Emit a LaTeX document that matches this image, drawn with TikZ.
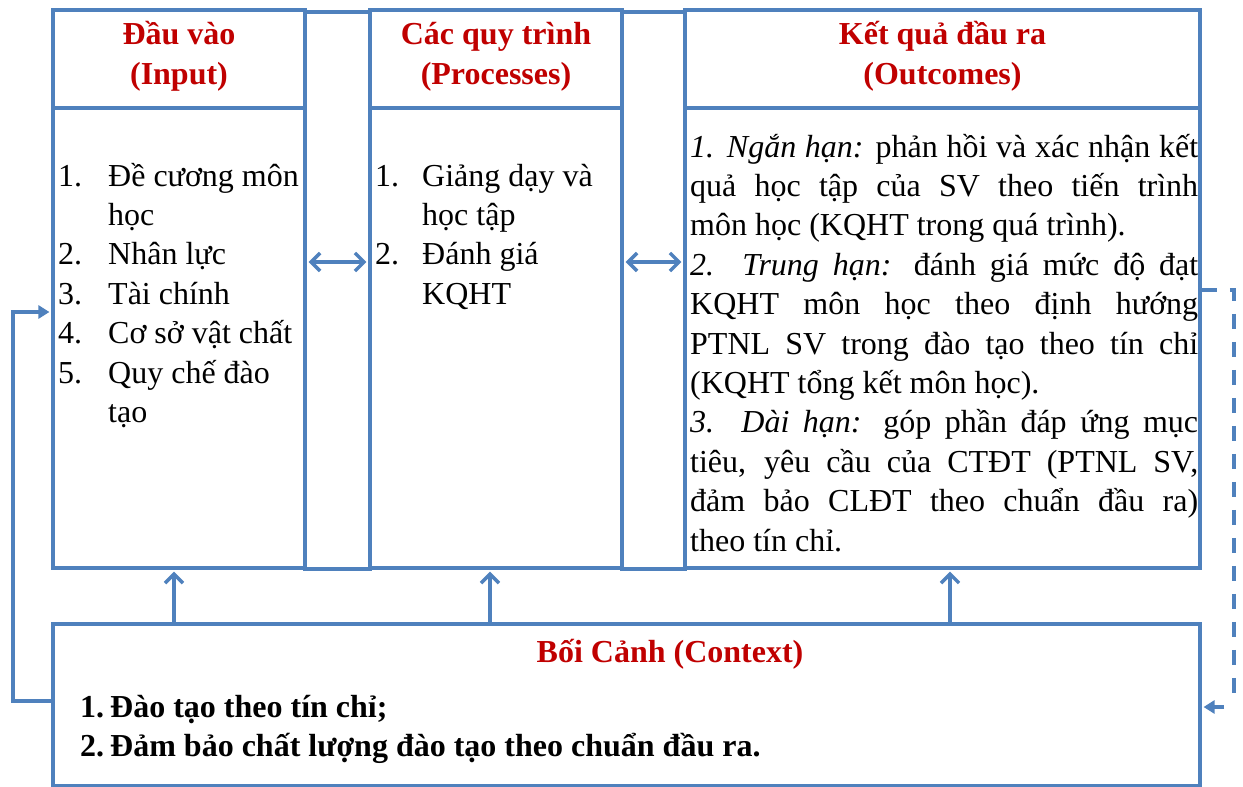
\documentclass[tikz,border=0pt]{standalone}
\usepackage{fontspec}
\setmainfont{Liberation Serif}
\usetikzlibrary{arrows.meta}
\definecolor{myblue}{HTML}{4F81BD}
\definecolor{myred}{HTML}{C00000}
\newcommand\bodysize{\fontsize{32}{39.4}\selectfont}
\begin{document}
\begin{tikzpicture}[x=1pt,y=-1pt,
  box/.style={draw=myblue, line width=3.5pt, inner sep=0pt, fill=white},
  txt/.style={font=\bodysize, inner sep=0pt, anchor=base west},
  hd/.style={font=\bodysize\bfseries, text=myred, inner sep=0pt, anchor=base},
  ctxt/.style={font=\bodysize\bfseries, inner sep=0pt, anchor=base west},
  link/.style={draw=myblue, line width=3.5pt, shorten <=1.8pt, shorten >=1.8pt,
    {Straight Barb[length=9pt,width=18pt]}-{Straight Barb[length=9pt,width=18pt]}},
  uparrow/.style={draw=myblue, line width=3.5pt, shorten >=1.8pt,
    -{Straight Barb[length=9pt,width=18pt]}},
  fback/.style={draw=myblue, line width=3.5pt, shorten >=1.8pt,
    -{Triangle[length=11pt,width=13pt]}},
  dline/.style={draw=myblue, line width=3.5pt, dash pattern=on 15pt off 13pt}]
\useasboundingbox (0,0) rectangle (1243,787);

% connector strips
\node[box, minimum width=65pt, minimum height=557pt] (strip1) at (337.5,290.5) {};
\node[box, minimum width=63pt, minimum height=557pt] (strip2) at (653.5,290.5) {};

% columns
\node[box, minimum width=252pt, minimum height=98pt] (inhead) at (179,59) {};
\node[box, minimum width=252pt, minimum height=460pt] (inbody) at (179,338) {};
\node[box, minimum width=252pt, minimum height=98pt] (prhead) at (496,59) {};
\node[box, minimum width=252pt, minimum height=460pt] (prbody) at (496,338) {};
\node[box, minimum width=515pt, minimum height=98pt] (ouhead) at (942.5,59) {};
\node[box, minimum width=515pt, minimum height=460pt] (oubody) at (942.5,338) {};

% context
\node[box, minimum width=1147pt, minimum height=162pt] (ctx) at (626.5,705) {};

% headers
\node[hd] (h1a) at (179,45) {Đầu vào};
\node[hd] (h1b) at (179,84) {(Input)};
\node[hd] (h2a) at (496,45) {Các quy trình};
\node[hd] (h2b) at (496,84) {(Processes)};
\node[hd] (h3a) at (942.5,45) {Kết quả đầu ra};
\node[hd] (h3b) at (942.5,84) {(Outcomes)};

% input list
\node[txt] (in1n) at (58,186) {1.};
\node[txt] (in1) at (108,186) {Đề cương môn};
\node[txt] (in1c) at (108,225.4) {học};
\node[txt] (in2n) at (58,264.8) {2.};
\node[txt] (in2) at (108,264.8) {Nhân lực};
\node[txt] (in3n) at (58,304.2) {3.};
\node[txt] (in3) at (108,304.2) {Tài chính};
\node[txt] (in4n) at (58,343.6) {4.};
\node[txt] (in4) at (108,343.6) {Cơ sở vật chất};
\node[txt] (in5n) at (58,383) {5.};
\node[txt] (in5) at (108,383) {Quy chế đào};
\node[txt] (in5c) at (108,422.4) {tạo};

% process list
\node[txt] (pr1n) at (375,186) {1.};
\node[txt] (pr1) at (422,186) {Giảng dạy và};
\node[txt] (pr1c) at (422,225.4) {học tập};
\node[txt] (pr2n) at (375,264.8) {2.};
\node[txt] (pr2) at (422,264.8) {Đánh giá};
\node[txt] (pr2c) at (422,304.2) {KQHT};

% outcomes text
\node[txt] (ou1) at (690,157) {\makebox[508pt][s]{\textit{1. Ngắn hạn:} phản hồi và xác nhận kết}};
\node[txt] (ou2) at (690,196.4) {\makebox[508pt][s]{quả học tập của SV theo tiến trình}};
\node[txt] (ou3) at (690,235.8) {môn học (KQHT trong quá trình).};
\node[txt] (ou4) at (690,275.2) {\makebox[508pt][s]{\textit{2. Trung hạn:} đánh giá mức độ đạt}};
\node[txt] (ou5) at (690,314.6) {\makebox[508pt][s]{KQHT môn học theo định hướng}};
\node[txt] (ou6) at (690,354) {\makebox[508pt][s]{PTNL SV trong đào tạo theo tín chỉ}};
\node[txt] (ou7) at (690,393.4) {(KQHT tổng kết môn học).};
\node[txt] (ou8) at (690,432.8) {\makebox[508pt][s]{\textit{3. Dài hạn:} góp phần đáp ứng mục}};
\node[txt] (ou9) at (690,472.2) {\makebox[508pt][s]{tiêu, yêu cầu của CTĐT (PTNL SV,}};
\node[txt] (ou10) at (690,511.6) {\makebox[508pt][s]{đảm bảo CLĐT theo chuẩn đầu ra)}};
\node[txt] (ou11) at (690,551) {theo tín chỉ.};

% context text
\node[hd] (ct) at (670,662) {Bối Cảnh (Context)};
\node[ctxt] (c1n) at (80,717) {1.};
\node[ctxt] (c1) at (110,717) {Đào tạo theo tín chỉ;};
\node[ctxt] (c2n) at (80,756) {2.};
\node[ctxt] (c2) at (110,756) {Đảm bảo chất lượng đào tạo theo chuẩn đầu ra.};

% coordinates for connectors
\coordinate (lk) at (0,262);
\coordinate (ux1) at (174,0);
\coordinate (ux2) at (490,0);
\coordinate (ux3) at (950,0);
\coordinate (fbl) at (0,701);
\coordinate (fbc) at (13,312);
\coordinate (dst) at (0,290);
\coordinate (dsc) at (1234,704);
\coordinate (dse) at (1224,707);

% connectors
\draw[link] (inbody.east |- lk) -- (prbody.west |- lk);
\draw[link] (prbody.east |- lk) -- (oubody.west |- lk);
\draw[uparrow] (ctx.north -| ux1) -- (inbody.south -| ux1);
\draw[uparrow] (ctx.north -| ux2) -- (prbody.south -| ux2);
\draw[uparrow] (ctx.north -| ux3) -- (oubody.south -| ux3);
\draw[fback] (ctx.west |- fbl) -| (fbc) -- (inbody.west |- fbc);
\draw[dline] (oubody.east |- dst) -| (dsc);
\draw[fback] (dse) -- (ctx.east |- dse);
\end{tikzpicture}
\end{document}
